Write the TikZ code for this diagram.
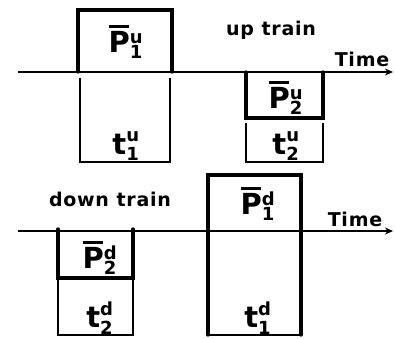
\documentclass[tikz,border=0pt]{standalone}
\usepackage{fontspec}
\setmainfont{DejaVu Sans}
\usetikzlibrary{arrows.meta}
\newcommand\bfl[1]{\hbox{\bfseries #1}}
\newcommand\bsc[1]{\hbox{\fontsize{18}{19}\selectfont\bfseries #1}}
\newcommand\Pbar{\hbox{\bfseries\rlap{\rule[24.5pt]{20pt}{2.4pt}}P}}
\begin{document}
\begin{tikzpicture}[x=1pt,y=-1pt,
  thickline/.style={line width=3.2pt,line cap=round},
  thinline/.style={line width=2pt},
  axis/.style={line width=1.8pt,-{Stealth[length=8pt,width=7pt]}},
  lab/.style={font=\fontsize{29}{31}\selectfont},
  txt/.style={font=\fontsize{19}{21}\selectfont\bfseries\addfontfeature{LetterSpace=4}}]
\useasboundingbox (0,0) rectangle (395,338);
% axes
\coordinate (a1s) at (18,72); \coordinate (a1e) at (393,72);
\coordinate (a2s) at (18,231); \coordinate (a2e) at (393,231);
\draw[axis] (a1s) -- (a1e);
\draw[axis] (a2s) -- (a2e);
% up train
\draw[thickline] (78,72) -- (78,10) -- (172,10) -- (172,72);
\draw[thinline] (80,78) -- (80,162) -- (170,162) -- (170,78);
\draw[thickline] (246,72) -- (246,118) -- (323,118) -- (323,72);
\draw[thinline] (246,123) -- (246,162) -- (323,162) -- (323,123);
% down train
\draw[thickline] (208,231) -- (208,175) -- (301,175) -- (301,231);
\draw[thickline] (208,231) -- (208,335);
\draw[thickline] (301,231) -- (301,335);
\draw[thinline] (208,335) -- (301,335);
\draw[thickline] (58,229) -- (58,278) -- (133,278) -- (133,229);
\draw[thinline] (58,278) -- (58,335) -- (133,335) -- (133,278);
% labels
\node[lab] (p1u) at (126,42) {$\Pbar{}^{\bsc{u}}_{\bsc{1}}$};
\node[lab] (t1u) at (126,146) {$\bfl{t}^{\bsc{u}}_{\bsc{1}}$};
\node[lab] (p2u) at (286,98) {$\Pbar{}^{\bsc{u}}_{\bsc{2}}$};
\node[lab] (t2u) at (286,146) {$\bfl{t}^{\bsc{u}}_{\bsc{2}}$};
\node[lab] (p1d) at (258,204) {$\Pbar{}^{\bsc{d}}_{\bsc{1}}$};
\node[lab] (t1d) at (258,318) {$\bfl{t}^{\bsc{d}}_{\bsc{1}}$};
\node[lab] (p2d) at (100,258) {$\Pbar{}^{\bsc{d}}_{\bsc{2}}$};
\node[lab] (t2d) at (100,318) {$\bfl{t}^{\bsc{d}}_{\bsc{2}}$};
\node[txt] (up) at (271,30) {up\hspace{0.4em}train};
\node[txt] (down) at (110,199) {down\hspace{0.4em}train};
\node[txt] (time1) at (362,59) {Time};
\node[txt] (time2) at (355,219) {Time};
\end{tikzpicture}
\end{document}
